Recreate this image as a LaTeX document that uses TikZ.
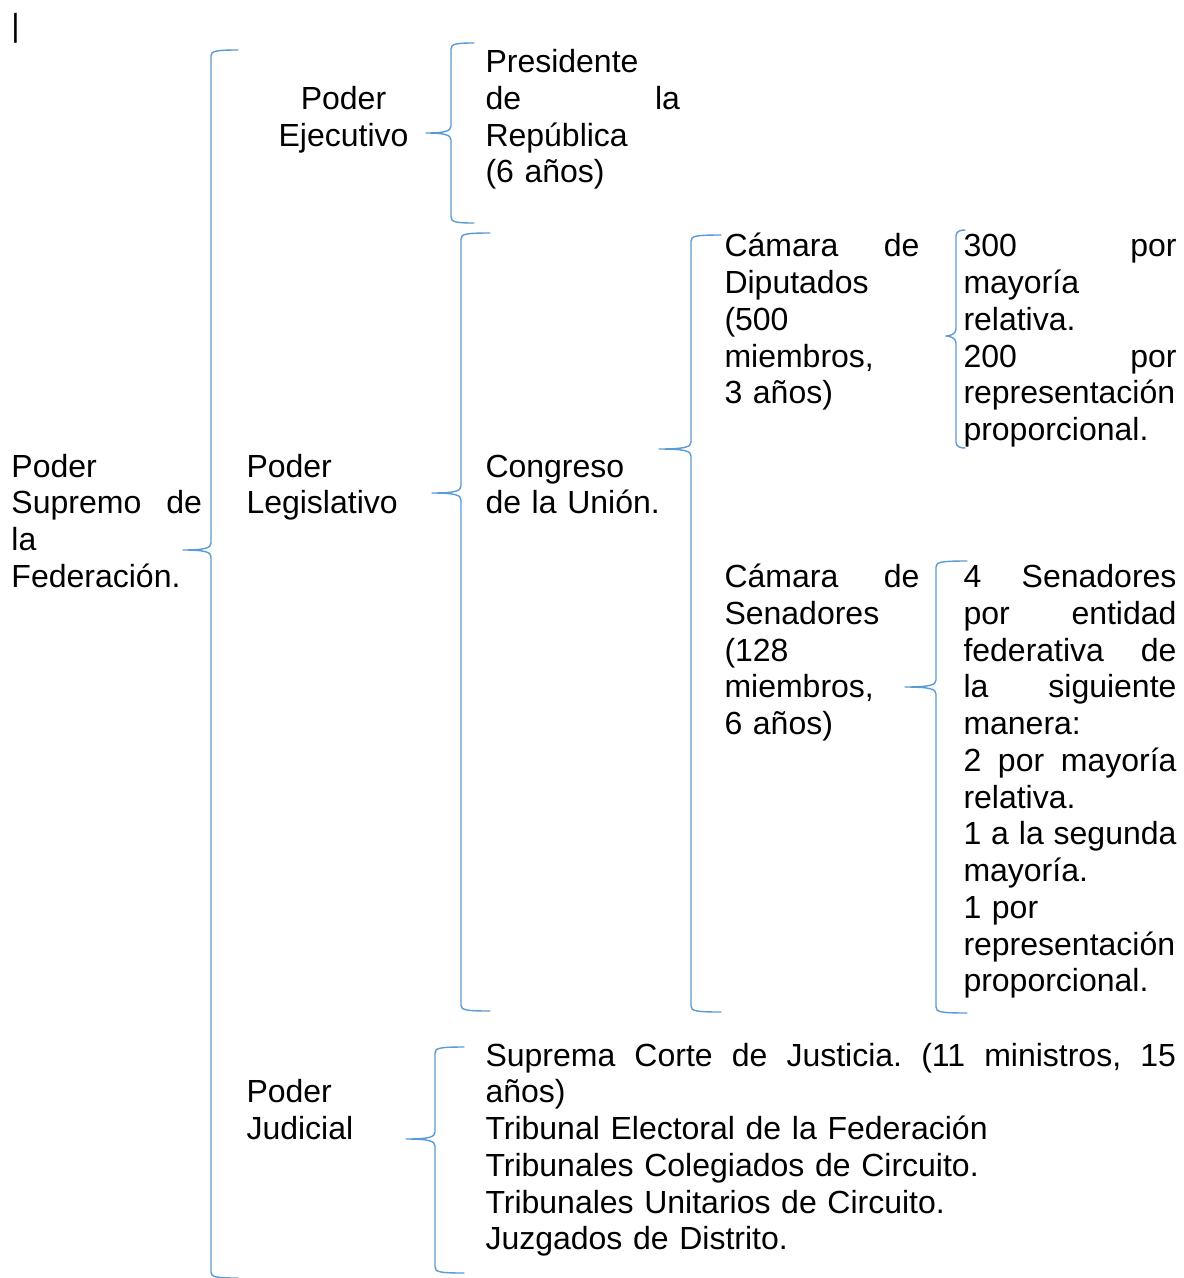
\documentclass[tikz,border=0pt]{standalone}
\usepackage{fontspec}
\setmainfont{Liberation Sans}
\definecolor{bracecol}{HTML}{5B9BD5}
% Word-style curly brace: #1 x of stem, #2 x of hook ends, #3 x of tip, #4 top y, #5 tip y, #6 bottom y
\newcommand{\wbrace}[6]{%
  \draw[bracestyle] ({#2},{#4-2}) .. controls ({#1+5},{#4-2}) and ({#1},{#4-1}) .. ({#1},{#4+4})
    -- ({#1},{#5-7}) .. controls ({#1},{#5-2}) and ({#1-6},{#5}) .. ({#3},{#5})
    .. controls ({#1-6},{#5}) and ({#1},{#5+2}) .. ({#1},{#5+7})
    -- ({#1},{#6-4}) .. controls ({#1},{#6+1}) and ({#1+5},{#6+2}) .. ({#2},{#6+2});}
\begin{document}
\begin{tikzpicture}[x=1pt,y=-1pt,
  bracestyle/.style={draw=bracecol,line width=1.4pt,line cap=round,line join=round},
  txt/.style={inner sep=0pt,outer sep=0pt,anchor=base west,align=left,
    font=\fontsize{32}{36.75}\selectfont},
  txtc/.style={inner sep=0pt,outer sep=0pt,anchor=base,align=center,
    font=\fontsize{32}{36.75}\selectfont}]
\useasboundingbox[fill=white] (0,0) rectangle (1184,1278);

% cursor mark
\node[txt] (cursor) at (11.5,36) {|};

% texts
\node[txt,text width=190.5pt] (fed) at (11.5,477)
  {Poder\\Supremo\hfill de\\la\\Federación.};
\node[txtc,text width=200pt] (ejec) at (343.5,109.5) {Poder\\Ejecutivo};
\node[txt,text width=194.5pt] (pres) at (485.5,72.5)
  {Presidente\\de\hfill la\\República\\(6 años)};
\node[txt,text width=190pt] (legis) at (246.5,477) {Poder\\Legislativo};
\node[txt,text width=200pt] (congreso) at (485.5,477) {Congreso\\de la Unión.};
\node[txt,text width=195pt] (dip) at (724.5,256.75)
  {Cámara\hfill de\\Diputados\\(500\\miembros,\\3 años)};
\node[txt,text width=213pt] (dipdet) at (963.5,256.75)
  {300\hfill por\\mayoría\\relativa.\\200\hfill por\\representación\\proporcional.};
\node[txt,text width=195pt] (sen) at (724.5,587.5)
  {Cámara\hfill de\\Senadores\\(128\\miembros,\\6 años)};
\node[txt,text width=213pt] (sendet) at (963.5,587.5)
  {4\hfill Senadores\\por\hfill entidad\\federativa\hfill de\\la\hfill siguiente\\manera:\\2\hfill por\hfill mayoría\\relativa.\\1\hfill a\hfill la\hfill segunda\\mayoría.\\1 por\\representación\\proporcional.};
\node[txt,text width=190pt] (judicial) at (246.5,1102.5) {Poder\\Judicial};
\node[txt,text width=690.5pt] (judlist) at (485.5,1066)
  {Suprema\hfill Corte\hfill de\hfill Justicia.\hfill (11\hfill ministros,\hfill 15\\años)\\Tribunal Electoral de la Federación\\Tribunales Colegiados de Circuito.\\Tribunales Unitarios de Circuito.\\Juzgados de Distrito.};

% braces
\wbrace{211}{238}{183}{52}{550}{1276}
\wbrace{451}{474}{426}{45}{133}{221}
\wbrace{461}{490}{432}{235}{493}{1009}
\wbrace{691}{721}{659}{237}{449}{1010}
\wbrace{956}{965}{946}{232}{336}{446}
\wbrace{936}{967}{905}{563}{687}{1011}
\wbrace{435}{464}{406}{1049}{1139}{1271}
\end{tikzpicture}
\end{document}
